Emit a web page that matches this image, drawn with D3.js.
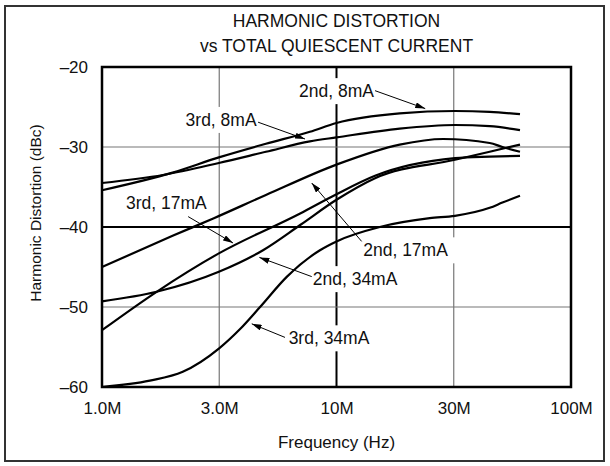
<!DOCTYPE html>
<html>
<head>
<meta charset="utf-8">
<script src="https://cdn.jsdelivr.net/npm/d3@7"></script>
<style>
  body { margin: 0; background: #fff; }
  svg text { font-family: "Liberation Sans", Arial, sans-serif; fill: #111; }
</style>
</head>
<body>
<script>
// axis ticks (frequency in MHz, distortion in dBc)
var freqTicks = [1, 3.162, 10, 31.62, 100]
var freqLabels = ["1.0M", "3.0M", "10M", "30M", "100M"]
var dbTicks = [-20, -30, -40, -50, -60]
var dbLabels = ["\u201320", "\u201330", "\u201340", "\u201350", "\u201360"]

// curves
var f2nd8 = [1, 2, 3.15, 5, 7.7, 10, 18.6, 32, 45, 60.6]
var db2nd8 = [-35.4, -33.2, -31.3, -29.6, -28.1, -27.0, -25.8, -25.5, -25.6, -25.9]

var f3rd8 = [1, 1.82, 3.15, 5, 7.7, 10, 18.6, 32, 45, 60.6]
var db3rd8 = [-34.5, -33.5, -32.0, -30.6, -29.3, -28.8, -27.7, -27.25, -27.4, -27.9]

var f2nd17 = [1, 2, 3, 5, 10, 18.6, 28.5, 45, 51, 60.6]
var db2nd17 = [-45.0, -41.1, -38.9, -36.0, -32.2, -29.7, -29.0, -29.5, -30.0, -30.6]

var f3rd17 = [1, 1.71, 3.15, 7.0, 10, 14.6, 32, 45, 60.6]
var db3rd17 = [-52.9, -48.1, -43.3, -38.3, -35.9, -33.6, -31.4, -31.2, -31.1]

var f2nd34 = [1, 1.71, 3.15, 4.86, 7.0, 10, 14.6, 32, 45, 60.6]
var db2nd34 = [-49.3, -48.1, -45.6, -42.9, -39.75, -36.6, -33.9, -31.6, -30.6, -29.7]

var f3rd34 = [1, 1.6, 2.21, 3.15, 3.88, 4.72, 6.15, 8.5, 10, 15.3, 25, 32, 45, 51, 60.6]
var db3rd34 = [-60, -59.2, -58.1, -55.2, -52.75, -50.0, -46.2, -42.9, -41.8, -40.0, -38.9, -38.6, -37.6, -36.95, -36.1]

// callout labels: text centre, arrow start, arrow tip (all in MHz / dBc)
var noteText = ["2nd, 8mA", "3rd, 8mA", "3rd, 17mA", "2nd, 17mA", "2nd, 34mA", "3rd, 34mA"]
var noteAt = [[10, -23.0], [3.22, -26.6], [1.88, -37.0], [19.7, -42.9], [12.0, -46.5], [9.29, -53.9]]
var noteFrom = [[14.6, -22.96], [4.63, -26.9], [2.33, -38.7], [12.8, -41.8], [7.84, -46.2], [6.03, -53.8]]
var noteTip = [[23.9, -25.2], [7.34, -29.0], [3.62, -42.0], [7.84, -34.5], [4.69, -43.8], [4.35, -52.1]]

var series = [
  {f: f2nd8, db: db2nd8},
  {f: f3rd8, db: db3rd8},
  {f: f2nd17, db: db2nd17},
  {f: f3rd17, db: db3rd17},
  {f: f2nd34, db: db2nd34},
  {f: f3rd34, db: db3rd34}
]

var width = 610, height = 466
var margin = {top: 67, left: 102, right: 39, bottom: 79}
var plotW = width - margin.left - margin.right
var plotH = height - margin.top - margin.bottom

var svg = d3.select("body").append("svg")
  .attr("width", width)
  .attr("height", height)

// outer frame
svg.append("rect")
  .attr("x", 5).attr("y", 6)
  .attr("width", 599).attr("height", 455)
  .attr("fill", "none")
  .attr("stroke", "#333")
  .attr("stroke-width", 2)

// title
svg.append("text")
  .attr("x", margin.left + plotW / 2).attr("y", 27)
  .attr("text-anchor", "middle")
  .style("font-size", "17.5px")
  .text("HARMONIC DISTORTION")
svg.append("text")
  .attr("x", margin.left + plotW / 2).attr("y", 52)
  .attr("text-anchor", "middle")
  .style("font-size", "17.5px")
  .text("vs TOTAL QUIESCENT CURRENT")

var g = svg.append("g")
  .attr("transform", "translate(" + margin.left + "," + margin.top + ")")

var x = d3.scaleLog().domain([1, 100]).range([0, plotW])
var y = d3.scaleLinear().domain([-60, -20]).range([plotH, 0])

// grid, the 10M and -40 lines are heavier
g.selectAll(".vgrid")
  .data(freqTicks.slice(1, 4))
  .enter().append("line")
  .attr("x1", function(d) { return x(d) }).attr("x2", function(d) { return x(d) })
  .attr("y1", 0).attr("y2", plotH)
  .attr("stroke", function(d) { return d == 10 ? "#000" : "#777" })
  .attr("stroke-width", function(d) { return d == 10 ? 2 : 1.2 })

g.selectAll(".hgrid")
  .data(dbTicks.slice(1, 4))
  .enter().append("line")
  .attr("x1", 0).attr("x2", plotW)
  .attr("y1", function(d) { return y(d) }).attr("y2", function(d) { return y(d) })
  .attr("stroke", function(d) { return d == -40 ? "#000" : "#777" })
  .attr("stroke-width", function(d) { return d == -40 ? 2 : 1.2 })

// tick labels
var xAxis = d3.axisBottom(x).tickValues(freqTicks).tickSize(0).tickPadding(15)
  .tickFormat(function(d, i) { return freqLabels[i] })
var xg = g.append("g").attr("transform", "translate(0," + plotH + ")").call(xAxis)
xg.select(".domain").remove()
xg.selectAll("text").style("font-size", "17px").style("font-family", null)

var yAxis = d3.axisLeft(y).tickValues(dbTicks).tickSize(0).tickPadding(14)
  .tickFormat(function(d, i) { return dbLabels[i] })
var yg = g.append("g").call(yAxis)
yg.select(".domain").remove()
yg.selectAll("text").style("font-size", "17px").style("font-family", null)

// axis titles
svg.append("text")
  .attr("x", margin.left + plotW / 2).attr("y", 448)
  .attr("text-anchor", "middle")
  .style("font-size", "17px")
  .text("Frequency (Hz)")
svg.append("text")
  .attr("transform", "translate(41,213) rotate(-90)")
  .attr("text-anchor", "middle")
  .style("font-size", "15.5px")
  .text("Harmonic Distortion (dBc)")

// white boxes behind the callout texts (they only hide the grid)
var boxLayer = g.append("g")

// curves
var line = d3.line()
  .x(function(d) { return x(d[0]) })
  .y(function(d) { return y(d[1]) })
  .curve(d3.curveMonotoneX)

g.selectAll(".curve")
  .data(series)
  .enter().append("path")
  .attr("d", function(s) { return line(d3.zip(s.f, s.db)) })
  .attr("fill", "none")
  .attr("stroke", "#000")
  .attr("stroke-width", 2.2)

// callouts
svg.append("defs").append("marker")
  .attr("id", "head")
  .attr("viewBox", "0 0 10 6")
  .attr("refX", 10).attr("refY", 3)
  .attr("markerWidth", 10).attr("markerHeight", 6)
  .attr("markerUnits", "userSpaceOnUse")
  .attr("orient", "auto")
  .append("path").attr("d", "M0,0 L10,3 L0,6 Z").attr("fill", "#000")

var texts = g.selectAll(".note")
  .data(noteText)
  .enter().append("text")
  .attr("x", function(d, i) { return x(noteAt[i][0]) })
  .attr("y", function(d, i) { return y(noteAt[i][1]) })
  .attr("dy", "0.35em")
  .attr("text-anchor", "middle")
  .style("font-size", "17.5px")
  .text(function(d) { return d })

texts.each(function() {
  var bb = this.getBBox()
  boxLayer.append("rect")
    .attr("x", bb.x - 8).attr("y", bb.y - 3)
    .attr("width", bb.width + 16).attr("height", bb.height + 6)
    .attr("fill", "#fff")
})

g.selectAll(".arrow")
  .data(noteText)
  .enter().append("line")
  .attr("x1", function(d, i) { return x(noteFrom[i][0]) })
  .attr("y1", function(d, i) { return y(noteFrom[i][1]) })
  .attr("x2", function(d, i) { return x(noteTip[i][0]) })
  .attr("y2", function(d, i) { return y(noteTip[i][1]) })
  .attr("stroke", "#000")
  .attr("stroke-width", 1)
  .attr("marker-end", "url(#head)")

// plot border
g.append("rect")
  .attr("width", plotW).attr("height", plotH)
  .attr("fill", "none")
  .attr("stroke", "#000")
  .attr("stroke-width", 2.5)
</script>
</body>
</html>
